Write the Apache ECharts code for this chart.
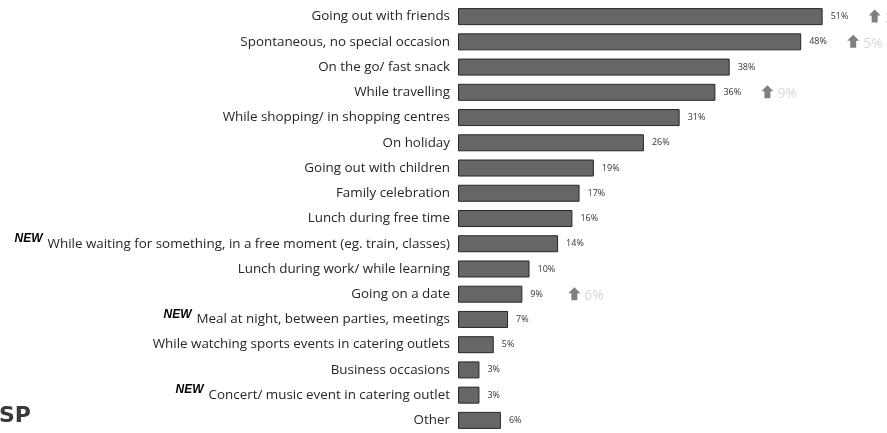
<!DOCTYPE html>
<html>
<head>
<meta charset="utf-8">
<script src="https://cdn.jsdelivr.net/npm/echarts@6/dist/echarts.min.js"></script>
<style>
  html, body { margin: 0; padding: 0; background: #ffffff; }
  #chart { width: 887px; height: 433px; }
</style>
</head>
<body>
<div id="chart"></div>
<script>
// Occasions, in chart order (top to bottom)
const categories = [
  'Going out with friends',
  'Spontaneous, no special occasion',
  'On the go/ fast snack',
  'While travelling',
  'While shopping/ in shopping centres',
  'On holiday',
  'Going out with children',
  'Family celebration',
  'Lunch during free time',
  'While waiting for something, in a free moment (eg. train, classes)',
  'Lunch during work/ while learning',
  'Going on a date',
  'Meal at night, between parties, meetings',
  'While watching sports events in catering outlets',
  'Business occasions',
  'Concert/ music event in catering outlet',
  'Other'
];

// Share of respondents, %
const shares = [51, 48, 38, 36, 31, 26, 19, 17, 16, 14, 10, 9, 7, 5, 3, 3, 6];

// Occasions introduced in this wave
const isNew = [false, false, false, false, false, false, false, false, false, true,
               false, false, true, false, false, true, false];

// Increase versus previous wave (null = no marked increase)
const increases = ['3%', '5%', null, '9%', null, null, null, null, null, null,
                   null, '6%', null, null, null, null, null];

const chart = echarts.init(document.getElementById('chart'));

const labelData = categories.map((c, i) => (isNew[i] ? '{n|NEW}' : '') + c);

const trendData = [];
increases.forEach((t, i) => {
  if (t !== null) trendData.push([shares[i], i, t]);
});

chart.setOption({
  animation: false,
  backgroundColor: '#ffffff',
  grid: { left: 458, top: 4, width: 430, height: 430, containLabel: false },
  xAxis: {
    type: 'value', min: 0, max: 60, show: false
  },
  yAxis: {
    type: 'category',
    inverse: true,
    data: labelData,
    axisLine: { show: false },
    axisTick: { show: false },
    axisLabel: {
      margin: 8,
      fontFamily: 'Open Sans',
      fontSize: 13.4,
      color: '#262626',
      rich: {
        n: {
          fontFamily: 'Liberation Sans',
          fontSize: 12,
          fontWeight: 'bold',
          fontStyle: 'italic',
          color: '#000000',
          padding: [0, 5, 10, 0]
        }
      }
    }
  },
  series: [
    {
      type: 'bar',
      data: shares,
      barWidth: 17,
      itemStyle: { color: '#666666', borderColor: '#262626', borderWidth: 1 },
      label: {
        show: true,
        position: 'right',
        distance: 8,
        formatter: '{c}%',
        fontFamily: 'Open Sans',
        fontSize: 9,
        color: '#333333'
      }
    },
    {
      type: 'custom',
      data: trendData,
      clip: false,
      renderItem: function (params, api) {
        const p = api.coord([api.value(0), api.value(1)]);
        const cx = p[0] + 52;
        const cy = p[1];
        return {
          type: 'group',
          children: [
            {
              type: 'polygon',
              shape: {
                points: [
                  [cx, cy - 7], [cx + 6, cy - 1], [cx + 3, cy - 1], [cx + 3, cy + 6],
                  [cx - 3, cy + 6], [cx - 3, cy - 1], [cx - 6, cy - 1]
                ]
              },
              style: { fill: '#7f7f7f' }
            },
            {
              type: 'text',
              style: {
                x: cx + 10,
                y: cy + 2,
                text: trendData[params.dataIndex][2],
                fontFamily: 'Open Sans',
                fontSize: 14,
                fill: '#d9d9d9',
                verticalAlign: 'middle',
                align: 'left'
              }
            }
          ]
        };
      }
    }
  ],
  graphic: [
    {
      type: 'text',
      x: -1,
      y: 416,
      style: {
        text: 'SP',
        fontFamily: 'DejaVu Sans',
        fontWeight: 'bold',
        fontSize: 22,
        fill: '#3a3a3a',
        verticalAlign: 'middle'
      }
    }
  ]
});
</script>
</body>
</html>
